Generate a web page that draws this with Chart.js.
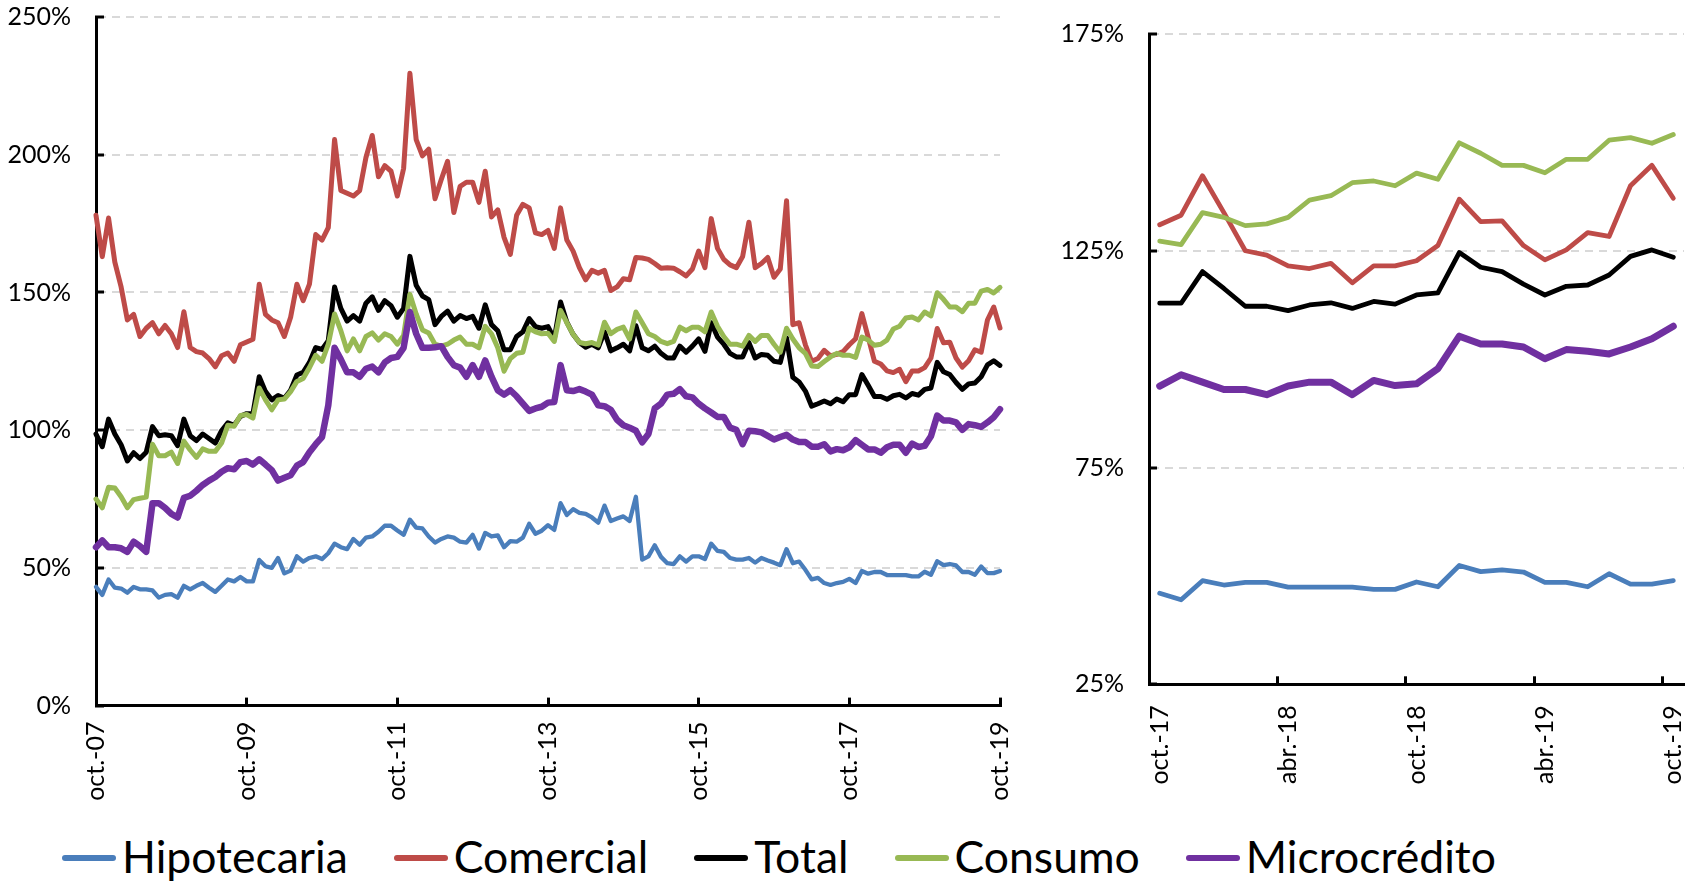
<!DOCTYPE html>
<html>
<head>
<meta charset="utf-8">
<script src="https://cdn.jsdelivr.net/npm/chart.js@4.4.1/dist/chart.umd.min.js"></script>
<style>
  html, body { margin: 0; padding: 0; background: #ffffff; }
  body { width: 1702px; height: 882px; position: relative; overflow: hidden; font-family: Lato, "Noto Sans", sans-serif; }
  #leftChart { position: absolute; left: 0; top: 0; }
  #rightChart { position: absolute; left: 1040px; top: 0; }
  #legend { position: absolute; left: 62px; top: 830px; display: flex; align-items: center; gap: 46px; }
  .item { display: flex; align-items: center; font-size: 44.5px; line-height: 52px; color: #000; }
  .swatch { display: inline-block; width: 54px; height: 6px; border-radius: 3px; margin-right: 6px; position: relative; top: 2px; }
</style>
</head>
<body>
<canvas id="leftChart" width="1040" height="800"></canvas>
<canvas id="rightChart" width="662" height="800"></canvas>
<div id="legend"></div>
<script>
// ---- Data (monthly, oct.-07 .. oct.-19), values in % ----
const hipotecaria = [
  43.1, 40.2, 45.8, 42.8, 42.5, 41, 43.1, 42.2, 42.2, 41.8,
  39.2, 40.2, 40.5, 39.2, 43.5, 42.2, 43.5, 44.5, 42.8, 41.3,
  43.5, 45.8, 45.1, 46.7, 45.1, 45.1, 52.9, 50.6, 50, 53.6,
  48, 49, 54.2, 52.3, 53.6, 54.2, 53.2, 55.3, 58.8, 57.5,
  56.8, 60.5, 58.4, 61, 61.4, 63.1, 65.3, 65.3, 63.6, 62,
  67.5, 64.6, 64.3, 61.4, 59.2, 60.5, 61.4, 61, 59.5, 59.2,
  62, 57, 62.7, 61.4, 61.8, 57.5, 59.7, 59.5, 61, 66,
  62.4, 63.5, 65.5, 63.8, 73.5, 69.2, 71.3, 70, 69.6, 68.3,
  66.4, 72.6, 67, 67.9, 68.7, 67, 75.8, 53, 54.2, 58.2,
  54, 51.7, 51.4, 54.2, 52.3, 54.2, 54.2, 53.2, 58.8, 56.2,
  55.8, 53.6, 53, 53, 53.6, 51.9, 53.6, 52.7, 51.9, 51,
  56.8, 51.7, 52.3, 49.3, 45.8, 46.4, 44.5, 43.8, 44.5, 44.9,
  46, 44.5, 48.9, 47.9, 48.5, 48.5, 47.4, 47.4, 47.4, 47.4,
  46.9, 46.9, 48.6, 47.5, 52.4, 51, 51.4, 50.9, 48.5, 48.5,
  47.5, 50.5, 48.1, 48.1, 48.9
];
const comercial = [
  178, 163, 177, 161, 152, 140, 142, 134, 137, 139,
  135, 138, 135, 130, 143, 130, 128.5, 128, 126, 123,
  127, 128, 125, 131, 132, 133, 153, 142, 140, 139,
  134, 141, 153, 147, 153, 171, 169, 173.5, 205.5, 187,
  186, 185, 187, 199, 207, 192, 196, 194, 185, 195,
  229.6, 205.5, 199.6, 202, 184, 191, 197.6, 179, 188.5, 190,
  190, 182.7, 194, 177.4, 180, 170, 163.8, 178, 182, 180.7,
  171.6, 171, 172.5, 166, 180.7, 169, 165, 159, 154.6, 158,
  157, 158, 150.7, 152, 155, 154.6, 162.7, 162.5, 162, 160.5,
  158.8, 159, 158.8, 157.5, 156, 158.5, 165, 159, 176.8, 166,
  162, 160, 159, 163, 175.5, 159, 160.5, 162.7, 155.5, 158.5,
  183.3, 138.3, 139, 131, 125, 126, 129, 127, 127.5, 128.5,
  131, 133.2, 142.3, 133.8, 125, 124, 121.5, 120.9, 122.1, 117.6,
  121.5, 121.5, 122.7, 126.2, 136.9, 131.7, 131.9, 126.2, 122.9, 125.2,
  129.2, 128.3, 140, 144.7, 137.1
];
const total = [
  98.6, 94, 104, 98.6, 94.7, 88.8, 91.8, 89.7, 92, 101.3,
  98, 98.3, 98, 94.4, 104, 98, 96.2, 98.6, 97, 95.3,
  99.8, 102.7, 101.8, 105, 106, 106, 119.4, 114, 111, 112.6,
  111.6, 114.5, 120, 121, 124.6, 130, 129.3, 132.5, 152, 144.2,
  139.6, 141.6, 139.6, 146.1, 148.4, 143.5, 147, 145.2, 141, 144.2,
  163.1, 152.6, 148.7, 147.4, 138.3, 141.3, 143.2, 139.6, 141.6, 140.5,
  141.3, 137, 145.5, 138.3, 136.1, 129.2, 129.2, 134, 135.7, 140.5,
  137.6, 137, 137.6, 133.1, 146.5, 139.2, 134.8, 131.8, 130.1, 131.2,
  129.9, 135.7, 128.8, 129.9, 131.2, 128.8, 137.9, 129.9, 128.8, 130.5,
  127.9, 126.2, 126.2, 130.5, 128.3, 130.5, 133.1, 128.6, 139, 133.8,
  131.2, 127.9, 126.6, 126.6, 131.8, 126.2, 127.5, 127.2, 125, 124.6,
  133.5, 119.2, 117.5, 114.2, 108.7, 109.6, 110.6, 109.6, 111.3, 110.3,
  112.9, 112.9, 120.2, 116.3, 112.2, 112.2, 111.2, 112.5, 113, 111.7,
  113.3, 112.7, 114.8, 115.3, 124.6, 121.2, 120.2, 117.3, 114.8, 116.8,
  117.1, 119.4, 123.7, 125.2, 123.5
];
const consumo = [
  75, 71.8, 79.3, 79, 75.8, 71.8, 74.8, 75.3, 75.7, 94.9,
  90.7, 90.7, 92, 87.9, 96, 92.8, 90.1, 93.2, 92.3, 92.3,
  95.3, 101.8, 101.4, 105.3, 105.7, 104.4, 115.3, 111, 107.4, 111,
  111.3, 114, 117.7, 118.8, 122.7, 127.2, 125, 131.2, 142.2, 136.1,
  128.8, 133.1, 128.8, 134, 135.3, 132.7, 135, 134, 131.2, 134.4,
  149.3, 142.2, 136.4, 135.3, 131.2, 130.5, 131.2, 132.7, 133.8, 131.2,
  131.2, 129.9, 137.7, 135, 129.9, 121.4, 126, 127.9, 128.3, 137,
  135.7, 135, 135.2, 132.2, 143.5, 139, 134.8, 131.8, 131.4, 131.8,
  130.9, 139.2, 135, 136.6, 137.4, 133.1, 142.9, 139, 135, 134,
  132.2, 131.4, 132.2, 137.4, 136.1, 137.4, 137.4, 135.7, 142.9, 137.7,
  134, 131.2, 131.2, 130.5, 134.4, 132.2, 134.4, 134.4, 131.2, 128.3,
  137, 133.1, 129.9, 127.9, 123.3, 123.1, 124.9, 126.6, 127.9, 127.2,
  127.2, 126.4, 133.8, 132.7, 130.8, 131.2, 132.7, 136.7, 137.7, 140.7,
  141.1, 140, 142.9, 141.5, 149.9, 147.5, 144.7, 144.7, 143, 146.1,
  146.1, 150.5, 151.1, 149.8, 151.8
];
const microcredito = [
  57.5, 60, 57.5, 57.5, 57.1, 55.8, 59.5, 57.9, 55.8, 73.5,
  73.5, 71.8, 69.6, 68.3, 75.4, 76.2, 78, 80.1, 81.7, 83,
  84.9, 86.2, 85.8, 88.4, 88.8, 87.5, 89.4, 87.5, 85.5, 81.7,
  82.7, 83.6, 87.1, 88.4, 92, 94.9, 97.5, 109, 129.9, 125.7,
  121, 121, 119.4, 122.3, 123.1, 121, 124.6, 126.2, 126.6, 129.9,
  142.9, 135, 129.9, 129.9, 130.1, 130.5, 126.6, 123.6, 122.7, 119.4,
  123.6, 119.4, 125.3, 119.4, 114.5, 112.9, 114.5, 112.3, 109.6, 107,
  107.9, 108.5, 110, 110.2, 123.6, 114.5, 114.2, 114.9, 114, 112.9,
  109, 108.7, 107.4, 103.8, 101.8, 100.9, 99.8, 95.6, 98.6, 107.9,
  109.6, 112.9, 113.2, 114.9, 112.3, 111.9, 109.6, 107.9, 106.4, 104.8,
  104.8, 100.9, 100.1, 94.9, 99.8, 99.6, 99.2, 97.9, 96.6, 97.5,
  98.3, 96.6, 95.7, 95.7, 94, 94, 94.9, 92.3, 93.1, 92.7,
  93.8, 96.4, 94.7, 93, 93, 91.8, 93.8, 94.7, 94.7, 91.8,
  95.1, 93.9, 94.3, 97.8, 105.3, 103.5, 103.5, 102.8, 100.1, 102.2,
  101.8, 101.2, 102.8, 104.7, 107.6
];

// Tick labels shown on the axes
const leftTickLabels  = ['oct.-07', 'oct.-09', 'oct.-11', 'oct.-13', 'oct.-15', 'oct.-17', 'oct.-19'];
const rightTickLabels = ['oct.-17', 'abr.-18', 'oct.-18', 'abr.-19', 'oct.-19'];
const leftYTicks  = [0, 50, 100, 150, 200, 250];
const rightYTicks = [25, 75, 125, 175];

const seriesNames  = ['Hipotecaria', 'Comercial', 'Total', 'Consumo', 'Microcrédito'];
const seriesColors = ['#4a7ebb', '#be4b48', '#000000', '#98b954', '#7030a0'];
const seriesData   = [hipotecaria, comercial, total, consumo, microcredito];
const zoomStart = 120; // right panel: last 25 months (oct.-17 .. oct.-19)

// month category labels (library needs one per point)
const meses = ['ene.', 'feb.', 'mar.', 'abr.', 'may.', 'jun.', 'jul.', 'ago.', 'sept.', 'oct.', 'nov.', 'dic.'];
const monthLabels = hipotecaria.map((_, i) => {
  const m = (9 + i) % 12;
  const y = 7 + Math.floor((9 + i) / 12);
  return meses[m] + '-' + String(y).padStart(2, '0');
});

const FONT = { family: 'Lato, "Noto Sans", sans-serif', size: 25 };

function datasets(sliceFrom, widths) {
  return seriesNames.map((name, k) => ({
    label: name,
    data: seriesData[k].slice(sliceFrom),
    borderColor: seriesColors[k],
    backgroundColor: seriesColors[k],
    borderWidth: widths[k],
    pointRadius: 0,
    pointHoverRadius: 0,
    tension: 0,
    borderJoinStyle: 'round',
    borderCapStyle: 'round',
    fill: false,
    clip: false,
    order: 5 - k
  }));
}

function yScale(min, max, ticksArr, width) {
  return {
    type: 'linear', min: min, max: max,
    afterBuildTicks: (s) => { s.ticks = ticksArr.map(v => ({ value: v })); },
    afterFit: (s) => { s.width = width; s.paddingTop = 15; s.paddingBottom = 15; },
    ticks: { font: FONT, color: '#000', padding: 33, callback: (v) => v + '%' },
    grid: {
      color: (ctx) => (ctx.tick && ctx.tick.value === min) ? 'rgba(0,0,0,0)' : '#d9d9d9',
      lineWidth: 2, tickColor: '#000', tickWidth: 3, tickLength: -8
    },
    border: { color: '#000', width: 3, dash: [8, 6] }
  };
}

function xAfterFit(h) {
  return (s) => { s.height = h; s.paddingLeft = 0; s.paddingRight = 0; };
}

Chart.defaults.font.family = FONT.family;

new Chart(document.getElementById('leftChart'), {
  type: 'line',
  data: { labels: monthLabels, datasets: datasets(0, [4.3, 5, 5, 5, 6.5]) },
  options: {
    responsive: false, animation: false, devicePixelRatio: 1,
    layout: { padding: { left: 0, right: 40, top: 17, bottom: 0 } },
    plugins: { legend: { display: false }, tooltip: { enabled: false } },
    scales: {
      x: {
        type: 'category', offset: false,
        afterFit: xAfterFit(94.4),
        ticks: {
          autoSkip: false, minRotation: 90, maxRotation: 90, font: FONT, color: '#000', padding: 24,
          callback: (v, i) => (i % 24 === 0 ? leftTickLabels[i / 24] : '')
        },
        grid: {
          drawOnChartArea: false, tickLength: -8, tickWidth: 3,
          tickColor: (ctx) => (ctx.index % 24 === 0 ? '#000' : 'rgba(0,0,0,0)')
        },
        border: { color: '#000', width: 3 }
      },
      y: yScale(0, 250, leftYTicks, 96)
    }
  }
});

new Chart(document.getElementById('rightChart'), {
  type: 'line',
  data: { labels: monthLabels.slice(zoomStart), datasets: datasets(zoomStart, [4.8, 4.8, 4.8, 4.8, 7]) },
  options: {
    responsive: false, animation: false, devicePixelRatio: 1,
    layout: { padding: { left: 0, right: 18, top: 34, bottom: 0 } },
    plugins: { legend: { display: false }, tooltip: { enabled: false } },
    scales: {
      x: {
        type: 'category', offset: true,
        afterFit: xAfterFit(115.7),
        ticks: {
          autoSkip: false, minRotation: 90, maxRotation: 90, font: FONT, color: '#000', padding: 29,
          callback: (v, i) => (i % 6 === 0 ? rightTickLabels[i / 6] : '')
        },
        grid: {
          offset: true, drawOnChartArea: false, tickLength: -8, tickWidth: 3,
          tickColor: (ctx) => (ctx.index % 6 === 0 ? '#000' : 'rgba(0,0,0,0)')
        },
        border: { color: '#000', width: 3 }
      },
      y: yScale(25, 175, rightYTicks, 109)
    }
  }
});

// HTML legend
const legend = document.getElementById('legend');
seriesNames.forEach((name, k) => {
  const item = document.createElement('div');
  item.className = 'item';
  const sw = document.createElement('span');
  sw.className = 'swatch';
  sw.style.background = seriesColors[k];
  const tx = document.createElement('span');
  tx.textContent = name;
  item.appendChild(sw);
  item.appendChild(tx);
  legend.appendChild(item);
});
</script>
</body>
</html>
